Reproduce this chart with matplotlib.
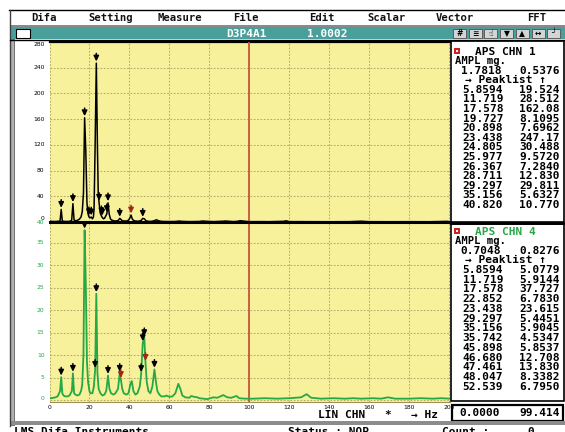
import matplotlib
matplotlib.use("Agg")
import matplotlib.pyplot as plt
from matplotlib.patches import Rectangle

# ---------------------------------------------------------------- data
menu_items = ["Difa", "Setting", "Measure", "File", "Edit", "Scalar", "Vector", "FFT"]
title_name = "D3P4A1"
title_value = "1.0002"

# channel 1 spectrum (Hz, mg)
chn1_freq = [0.0, 1.0, 2.0, 3.0, 4.0, 5.0, 5.3, 5.8594, 6.4, 7.0, 8.5, 10.0, 11.1, 11.719,
             12.3, 13.0, 14.0, 15.0, 15.8, 16.4, 17.0, 17.578, 18.16, 18.75, 19.2, 19.727,
             20.3, 20.898, 21.5, 22.0, 22.3, 22.85, 23.438, 24.02, 24.4, 24.805, 25.4, 25.977,
             26.367, 27.0, 27.6, 28.1, 28.711, 29.297, 29.9, 30.5, 31.1, 32.0, 33.0, 34.0,
             34.6, 35.156, 35.74, 36.4, 37.5, 38.7, 39.6, 40.2, 40.820, 41.4, 42.0, 43.0,
             44.5, 45.9, 46.68, 47.46, 48.3, 49.5, 51.0, 52.5, 53.5, 54.5, 56.0, 58.0, 60.0,
             63.0, 65.0, 66.0, 70.0, 75.0, 76.5, 78.0, 82.0, 87.0, 88.0, 92.0, 94.0, 95.5,
             100.0, 105.0, 110.0, 117.0, 118.5, 120.0, 130.0, 140.0, 150.0, 156.0, 160.0,
             170.0, 180.0, 190.0, 199.0, 200.5]
chn1_amp = [1.5, 1.0, 0.8, 0.8, 1.0, 1.2, 2.0, 19.524, 2.0, 1.0, 0.8, 1.0, 2.5, 28.512,
            3.0, 2.0, 2.5, 4.5, 8.0, 16.0, 45.0, 162.08, 112.0, 30.0, 14.0, 8.1095,
            6.5, 7.6962, 5.0, 8.0, 20.0, 120.0, 247.17, 112.0, 45.0, 30.488, 14.0, 9.5720,
            7.2840, 5.0, 6.0, 9.0, 12.830, 29.811, 12.0, 5.0, 3.0, 2.0, 1.5, 2.0,
            3.0, 5.6327, 4.0, 2.0, 1.5, 1.5, 3.0, 6.0, 10.770, 5.0, 2.5, 1.5,
            1.2, 2.5, 5.5, 5.0, 2.0, 1.0, 1.0, 2.0, 3.5, 2.0, 1.0, 0.8, 0.7,
            0.8, 1.5, 1.0, 0.6, 0.8, 1.5, 1.2, 0.6, 1.2, 1.5, 0.6, 1.0, 2.0,
            0.5, 0.6, 0.5, 1.0, 1.8, 0.6, 0.5, 0.4, 0.5, 1.2, 0.5,
            0.4, 0.5, 0.4, 1.0, 0.5]
chn1_ampl_hdr = [1.7818, 0.5376]
chn1_peak_freq = [5.8594, 11.719, 17.578, 19.727, 20.898, 23.438, 24.805, 25.977, 26.367,
                  28.711, 29.297, 35.156, 40.820]
chn1_peak_amp = [19.524, 28.512, 162.08, 8.1095, 7.6962, 247.17, 30.488, 9.5720, 7.2840,
                 12.830, 29.811, 5.6327, 10.770]
chn1_more_peak_freq = [46.68]
chn1_more_peak_amp = [5.5]
chn1_selected = 40.820

# channel 4 spectrum (Hz, mg)
chn4_freq = [0.0, 1.0, 2.0, 3.0, 4.0, 4.8, 5.3, 5.8594, 6.4, 7.0, 8.0, 9.0, 10.0, 10.6,
             11.2, 11.719, 12.3, 13.0, 14.0, 15.0, 15.8, 16.4, 17.0, 17.578, 18.16, 18.75,
             19.3, 20.0, 20.5, 21.5, 22.2, 22.852, 23.438, 24.0, 24.6, 25.5, 26.5, 27.5,
             28.4, 29.297, 30.0, 30.8, 32.0, 33.0, 34.3, 35.156, 35.742, 36.4, 37.2, 38.5,
             39.5, 40.5, 41.2, 42.0, 43.0, 44.0, 45.2, 45.898, 46.680, 47.461, 48.047, 48.7,
             49.5, 50.5, 51.5, 52.539, 53.3, 54.0, 55.0, 56.0, 57.5, 58.5, 60.0, 61.5, 63.0,
             64.5, 65.5, 66.5, 68.0, 70.0, 71.0, 72.5, 74.0, 75.0, 77.0, 79.0, 82.0, 84.0,
             87.0, 89.0, 91.0, 93.6, 95.0, 98.0, 102.0, 108.0, 114.0, 120.0, 126.0, 128.7,
             131.0, 136.0, 142.0, 148.0, 152.0, 156.0, 162.0, 166.0, 169.5, 173.0, 180.0,
             186.0, 192.0, 196.0, 200.5]
chn4_amp = [0.5, 0.4, 0.5, 0.6, 0.8, 1.5, 2.0, 5.0779, 1.5, 1.0, 0.8, 0.8, 1.0, 1.5,
            2.0, 5.9144, 1.5, 1.2, 1.0, 1.2, 2.0, 3.5, 10.0, 37.727, 26.0, 8.5,
            4.0, 2.0, 1.5, 1.5, 3.0, 6.7830, 23.615, 6.0, 2.5, 1.5, 1.0, 1.2,
            2.0, 5.4451, 2.5, 1.5, 1.2, 1.5, 2.5, 5.9045, 4.5347, 2.5, 1.5, 1.2,
            1.5, 3.5, 4.2, 2.0, 1.2, 1.5, 3.0, 5.8537, 12.708, 13.830, 8.3382, 4.0,
            2.0, 1.5, 3.0, 6.7950, 4.0, 2.0, 1.2, 0.8, 0.8, 1.0, 0.7, 0.8, 1.5,
            3.6, 2.5, 1.0, 0.6, 0.5, 0.9, 0.7, 0.6, 0.4, 0.3, 0.2, 0.6, 0.5,
            1.1, 0.6, 0.5, 0.9, 0.4, 0.3, 0.3, 0.4, 0.3, 0.4, 0.6, 1.3,
            0.5, 0.3, 0.4, 0.3, 0.4, 0.3, 0.4, 0.3, 0.6, 0.3, 0.3,
            0.4, 0.3, 0.4, 0.3]
chn4_ampl_hdr = [0.7048, 0.8276]
chn4_peak_freq = [5.8594, 11.719, 17.578, 22.852, 23.438, 29.297, 35.156, 35.742, 45.898,
                  46.680, 47.461, 48.047, 52.539]
chn4_peak_amp = [5.0779, 5.9144, 37.727, 6.7830, 23.615, 5.4451, 5.9045, 4.5347, 5.8537,
                 12.708, 13.830, 8.3382, 6.7950]
chn4_selected = [35.742, 48.047]

cursor_freq = 100.0
readout = [0.0, 99.414]
x_ticks = list(range(0, 201, 20))
y1_ticks = list(range(0, 281, 40))
y4_ticks = list(range(0, 41, 5))

# ---------------------------------------------------------------- style
W, H = 565, 432
YELLOW = "#f7f19b"
GRIDC = "#b3ab6c"
TEAL = "#49a09b"
GREEN = "#25a845"
RED = "#c8553c"
MONO = "DejaVu Sans Mono"
CAP = 3.9  # half cap height of the 8 pt mono face, in pixels

fig = plt.figure(figsize=(W / 100, H / 100), dpi=100)
fig.patch.set_facecolor("white")


def box(x0, y0, x1, y1):
    """Pixel box (origin top-left) to figure-fraction rectangle."""
    return [x0 / W, 1 - y1 / H, (x1 - x0) / W, (y1 - y0) / H]


bg = fig.add_axes([0, 0, 1, 1], zorder=0)
bg.set_xlim(0, W)
bg.set_ylim(H, 0)
bg.axis("off")


def label(x, y, s, ha="left", size=8, color="black", **kw):
    """Bold mono text whose capitals are centred on pixel row y."""
    bg.text(x, y + CAP * size / 8, s, family=MONO, weight="bold", fontsize=size,
            ha=ha, va="baseline", color=color, **kw)


# menu bar
bg.plot([9, W], [9.5, 9.5], color="black", lw=1)
bg.plot([9.5, 9.5], [9.5, 426], color="#404040", lw=1)
menu_x = [31, 88, 157, 233, 309, 367, 436, 527]
for name, x in zip(menu_items, menu_x):
    label(x, 17.5, name, size=7.6, color="#111111")
bg.add_patch(Rectangle((10, 25), W - 10, 2, color="#8a8a8a", lw=0))

# title bar
bg.add_patch(Rectangle((10, 27), W - 10, 11.5, color=TEAL, lw=0))
bg.add_patch(Rectangle((16, 28.5), 14, 9, facecolor="white", edgecolor="black", lw=0.8))
label(226, 33, title_name, color="white")
label(307, 33, title_value, color="white")
icons = ["#", "\u2261", "\u261d", "\u25bc", "\u25b2", "\u2194", "\u2518"]
for i, g in enumerate(icons):
    x0 = 453 + i * 15.7
    bg.add_patch(Rectangle((x0, 28.5), 13, 9, facecolor="#d4d4d4",
                           edgecolor="#505050", lw=0.6))
    bg.text(x0 + 6.5, 33.2, g, family="DejaVu Sans", weight="bold", fontsize=5.5,
            ha="center", va="center", color="black")
bg.plot([10, W], [40, 40], color="black", lw=1)

# left window border
bg.add_patch(Rectangle((9.5, 38.5), 4, 386, facecolor="#b0b0b0",
                       edgecolor="#606060", lw=0.6))

# right-hand panels
bg.add_patch(Rectangle((451, 41), 113, 181, facecolor="white", edgecolor="black", lw=1.2))
bg.add_patch(Rectangle((451, 224), 113, 177, facecolor="white", edgecolor="black", lw=1.2))
bg.plot([449, W], [222.5, 222.5], color="black", lw=2)
bg.add_patch(Rectangle((452, 404.5), 111, 16, facecolor="white", edgecolor="black", lw=1.6))
label(459, 412.5, f"{readout[0]:.4f}")
label(560, 412.5, f"{readout[1]:#.5g}", ha="right")


def panel(y_top, chn_label, color, hdr, pf, pa, step):
    bg.add_patch(Rectangle((453.5, y_top - 3.5), 6.5, 6.5, facecolor="#d02020", lw=0))
    bg.add_patch(Rectangle((455.5, y_top - 1.5), 2.5, 2.5, facecolor="white", lw=0))
    label(475, y_top, chn_label, color=color)
    label(455, y_top + 9.5, "AMPL mg.", size=7.6)
    label(501, y_top + 19, f"{hdr[0]:.4f}", ha="right")
    label(560, y_top + 19, f"{hdr[1]:.4f}", ha="right")
    label(465, y_top + 28.5, "\u2192 Peaklist \u2191")
    for i, (f, a) in enumerate(zip(pf, pa)):
        yy = y_top + 38 + step * i
        label(503, yy, f"{f:#.5g}", ha="right")
        label(560, yy, f"{a:#.5g}", ha="right")


panel(51, "APS CHN 1", "black", chn1_ampl_hdr, chn1_peak_freq, chn1_peak_amp, 9.6)
panel(231, "APS CHN 4", GREEN, chn4_ampl_hdr, chn4_peak_freq, chn4_peak_amp, 9.75)

# axis caption under the lower plot
label(318, 414, "LIN CHN")
label(384, 414, "*")
label(411, 414, "\u2192 Hz")

# status bar (runs off the bottom edge of the window)
bg.add_patch(Rectangle((10, 421), W - 10, 3.5, facecolor="#8c8c8c", lw=0))
for txt, x in [("LMS Difa Instruments", 14), ("Status : NOP", 288),
               ("Count :", 442), ("0", 527)]:
    label(x, 431.5, txt)

# ---------------------------------------------------------------- plots
XMAX = 200.25
AX_LEFT, AX_RIGHT = 49.5, 449.5


def style_axes(ax, yticks, ylim, label_color, y_top, y_bot):
    ax.set_facecolor(YELLOW)
    ax.set_xlim(0, XMAX)
    ax.set_ylim(*ylim)
    ax.set_xticks(x_ticks)
    ax.set_yticks(yticks)
    ax.set_yticklabels([])
    ax.grid(True, color=GRIDC, ls=(0, (1.6, 1.6)), lw=0.75)
    ax.set_axisbelow(True)
    ax.tick_params(length=0, labelsize=4.3, pad=4)
    for s in ("left", "right"):
        ax.spines[s].set_visible(False)
    ax.axvline(cursor_freq, color=RED, lw=1.3, zorder=3)
    # value labels to the left, kept inside the plot's height
    lo, hi = ylim
    for v in yticks:
        py = y_top + (hi - v) / (hi - lo) * (y_bot - y_top)
        py = min(max(py, y_top + 3), y_bot - 3.5)
        bg.text(44.5, py, f"{v}", fontsize=4.3, color=label_color,
                ha="right", va="center")


ax1 = fig.add_axes(box(AX_LEFT, 42, AX_RIGHT, 222), zorder=2)
style_axes(ax1, y1_ticks, (0, 280), "black", 42, 222)
ax1.tick_params(axis="x", labelbottom=False)
ax1.spines["top"].set_linewidth(1.6)
ax1.spines["bottom"].set_linewidth(2.2)
ax1.plot(chn1_freq, chn1_amp, color="black", lw=1.1, zorder=4)

ax2 = fig.add_axes(box(AX_LEFT, 220, AX_RIGHT, 402), zorder=1)
style_axes(ax2, y4_ticks, (-0.44, 40), GREEN, 220, 402)
ax2.tick_params(axis="x", colors="black", pad=2)
ax2.spines["top"].set_visible(False)
ax2.spines["bottom"].set_color("#9a9450")
ax2.spines["bottom"].set_linewidth(0.8)
ax2.plot(chn4_freq, chn4_amp, color=GREEN, lw=1.3, zorder=4)


def peak_arrows(ax, freqs, amps, selected):
    for f, a in zip(freqs, amps):
        c = "#a02818" if f in selected else "black"
        ax.annotate("", xy=(f, a), xytext=(0, 7), textcoords="offset points",
                    arrowprops=dict(arrowstyle="-|>,head_width=0.22,head_length=0.45",
                                    color=c, lw=1.1, shrinkA=0, shrinkB=1.2,
                                    mutation_scale=7),
                    annotation_clip=False, zorder=5)


peak_arrows(ax1, chn1_peak_freq, chn1_peak_amp, [chn1_selected])
peak_arrows(ax1, chn1_more_peak_freq, chn1_more_peak_amp, [])
peak_arrows(ax2, chn4_peak_freq, chn4_peak_amp, chn4_selected)

fig.savefig("out.png", dpi=100, facecolor="white")
